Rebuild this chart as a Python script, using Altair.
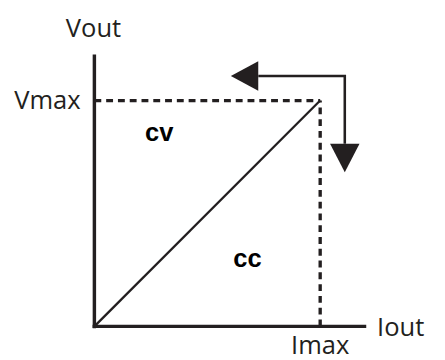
import altair as alt
import pandas as pd

# ---- data (diagram units: Imax = 1, Vmax = 1) ----
I_MAX = 1.0
V_MAX = 1.0
AXIS_END = 1.204            # length of both axes
DIAG_X = [0.0, I_MAX]
DIAG_Y = [0.0, V_MAX]
ARROW_PATH_X = [0.726, 1.109, 1.109]
ARROW_PATH_Y = [1.1087, 1.1087, 0.8087]
HEAD_X = [0.665, 1.109]
HEAD_Y = [1.1087, 0.7457]
HEAD_DIR = ["left", "down"]
LABELS = ["Vout", "Vmax", "Iout", "Imax"]
LABEL_X = [-0.004, -0.061, 1.252, 1.0]
LABEL_Y = [1.283, 0.961, -0.0435, -0.122]
LABEL_ALIGN = ["center", "right", "left", "center"]
REGIONS = ["cv", "cc"]
REGION_X = [0.287, 0.678]
REGION_Y = [0.822, 0.265]

XDOM = [-88 / 230, (437 - 88) / 230]
YDOM = [-31 / 230, (352 - 31) / 230]
INK = "#231f20"

xs = alt.Scale(domain=XDOM, nice=False, zero=False)
ys = alt.Scale(domain=YDOM, nice=False, zero=False)

axes_df = pd.DataFrame({
    "x": [0.0, -0.008], "x2": [0.0, AXIS_END],
    "y": [-0.008, 0.0], "y2": [AXIS_END, 0.0],
})
dash_df = pd.DataFrame({
    "x": [0.0, I_MAX], "x2": [I_MAX, I_MAX],
    "y": [V_MAX, 0.0], "y2": [V_MAX, V_MAX],
})
diag_df = pd.DataFrame({"x": DIAG_X, "y": DIAG_Y, "o": [0, 1]})
path_df = pd.DataFrame({"x": ARROW_PATH_X, "y": ARROW_PATH_Y, "o": [0, 1, 2]})
head_df = pd.DataFrame({"x": HEAD_X, "y": HEAD_Y, "d": HEAD_DIR})
lab_df = pd.DataFrame({"t": LABELS, "x": LABEL_X, "y": LABEL_Y, "a": LABEL_ALIGN})
reg_df = pd.DataFrame({"t": REGIONS, "x": REGION_X, "y": REGION_Y})

X = lambda f="x": alt.X(f"{f}:Q", scale=xs, axis=None)
Y = lambda f="y": alt.Y(f"{f}:Q", scale=ys, axis=None)

axes = alt.Chart(axes_df).mark_rule(color=INK, strokeWidth=3.5).encode(
    x=X(), x2="x2:Q", y=Y(), y2="y2:Q")
dashes = alt.Chart(dash_df).mark_rule(color=INK, strokeWidth=3.4, strokeDash=[7, 5]).encode(
    x=X(), x2="x2:Q", y=Y(), y2="y2:Q")
diag = alt.Chart(diag_df).mark_line(color=INK, strokeWidth=2.3).encode(
    x=X(), y=Y(), order="o:Q")
path = alt.Chart(path_df).mark_line(color=INK, strokeWidth=2.6, strokeJoin="miter").encode(
    x=X(), y=Y(), order="o:Q")
head_left = alt.Chart(head_df[head_df.d == "left"]).mark_point(
    shape="M-0.93,0L0.93,-1L0.93,1Z", filled=True, color=INK, opacity=1, size=900
).encode(x=X(), y=Y())
head_down = alt.Chart(head_df[head_df.d == "down"]).mark_point(
    shape="M-1,-0.97L1,-0.97L0,0.97Z", filled=True, color=INK, opacity=1, size=900
).encode(x=X(), y=Y())

def label_layer(align):
    return alt.Chart(lab_df[lab_df.a == align]).mark_text(
        font="Open Sans", fontSize=26, color=INK, align=align, baseline="alphabetic"
    ).encode(x=X(), y=Y(), text="t:N")

regions = alt.Chart(reg_df).mark_text(
    font="Liberation Sans", fontWeight="bold", fontSize=26, color="#000000",
    align="center", baseline="alphabetic"
).encode(x=X(), y=Y(), text="t:N")

chart = alt.layer(
    axes, dashes, diag, path, head_left, head_down,
    label_layer("center"), label_layer("right"), label_layer("left"), regions
).properties(
    width=437, height=352, padding=0, autosize=alt.AutoSizeParams(type="none")
).configure(background="white", view=alt.ViewConfig(stroke=None))

chart.save("out.html", embed_options={"renderer": "svg", "actions": False})
